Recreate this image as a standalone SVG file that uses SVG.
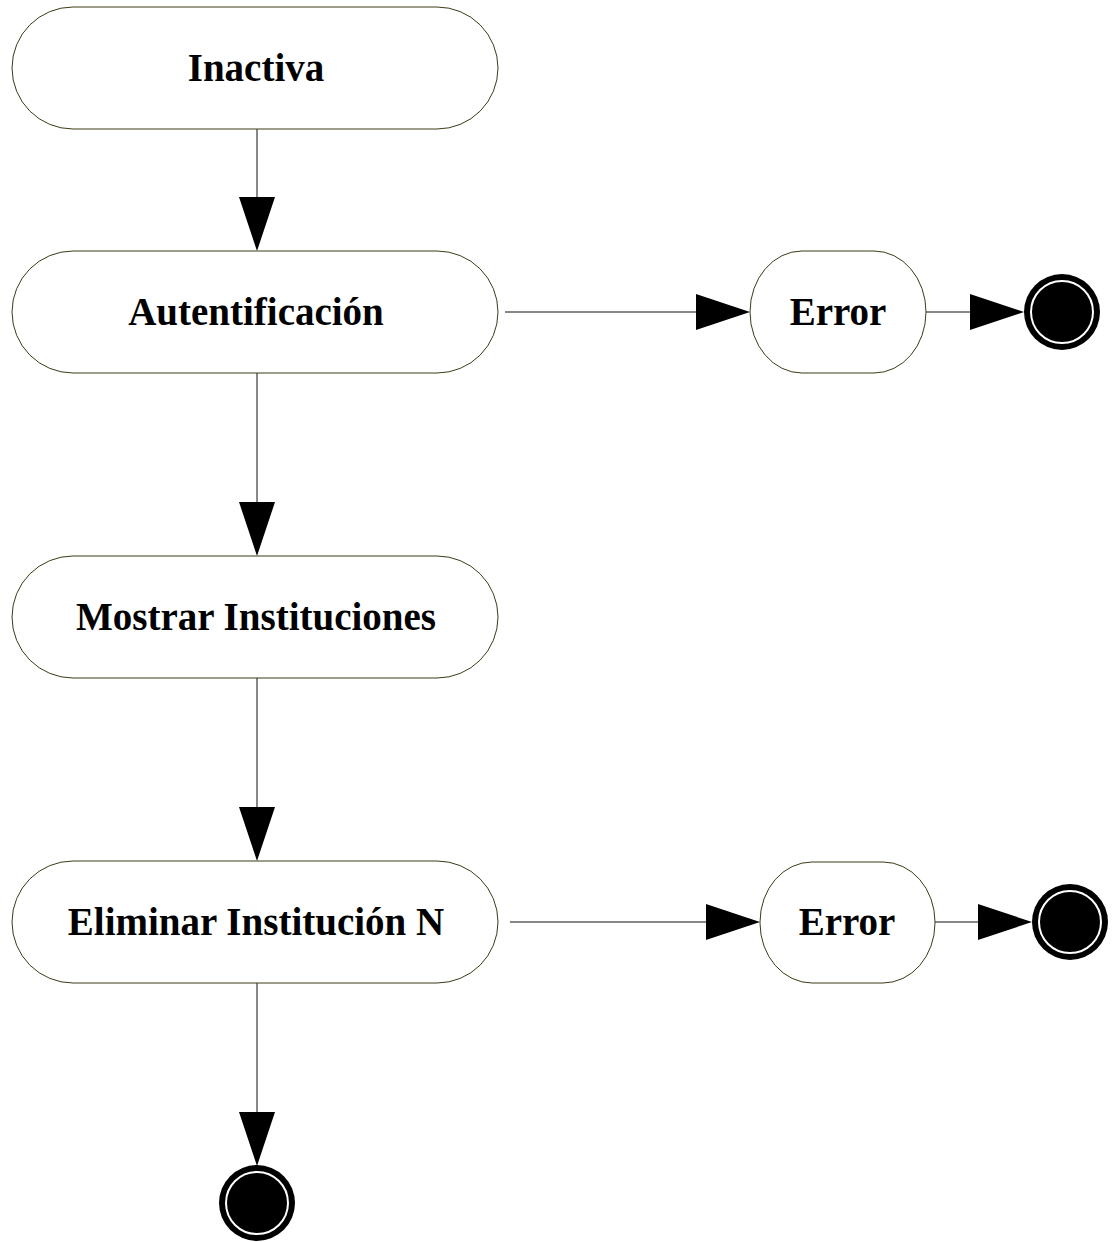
<svg xmlns="http://www.w3.org/2000/svg" width="1114" height="1242" viewBox="0 0 1114 1242">
  <style>
    .state { fill: #ffffff; stroke: #3d3a16; stroke-width: 1; }
    .label { font-family: "Liberation Serif", "Times New Roman", serif; font-weight: bold; font-size: 39px; fill: #000000; text-anchor: middle; }
    .edge { stroke: #111111; stroke-width: 1; fill: none; }
    .head { fill: #000000; stroke: none; }
    .final-outer { fill: #000000; }
    .final-ring { fill: none; stroke: #ffffff; stroke-width: 2; }
  </style>

  <!-- connectors -->
  <g id="connectors">
    <line class="edge" x1="257" y1="129" x2="257" y2="200"/>
    <polygon class="head" points="239,197 275,197 257,251"/>

    <line class="edge" x1="257" y1="373" x2="257" y2="505"/>
    <polygon class="head" points="239,502 275,502 257,556"/>

    <line class="edge" x1="257" y1="678" x2="257" y2="810"/>
    <polygon class="head" points="239,807 275,807 257,861"/>

    <line class="edge" x1="257" y1="983" x2="257" y2="1115"/>
    <polygon class="head" points="239,1112 275,1112 257,1166"/>

    <line class="edge" x1="505" y1="312" x2="700" y2="312"/>
    <polygon class="head" points="696,294 696,330 750,312"/>

    <line class="edge" x1="926" y1="312" x2="972" y2="312"/>
    <polygon class="head" points="970,294 970,330 1024,312"/>

    <line class="edge" x1="510" y1="922" x2="710" y2="922"/>
    <polygon class="head" points="706,904 706,940 760,922"/>

    <line class="edge" x1="935" y1="922" x2="980" y2="922"/>
    <polygon class="head" points="978,904 978,940 1032,922"/>
  </g>

  <g id="inactiva">
    <rect class="state" x="12" y="7" width="486" height="122" rx="61" ry="61"/>
    <text class="label" x="256" y="81">Inactiva</text>
  </g>

  <g id="autentificacion">
    <rect class="state" x="12" y="251" width="486" height="122" rx="61" ry="61"/>
    <text class="label" x="256" y="325">Autentificación</text>
  </g>

  <g id="error-1">
    <rect class="state" x="750" y="251" width="176" height="122" rx="52" ry="61"/>
    <text class="label" x="838" y="325">Error</text>
  </g>

  <g id="fin-1">
    <circle class="final-outer" cx="1062" cy="312" r="38"/>
    <circle class="final-ring" cx="1062" cy="312" r="31"/>
  </g>

  <g id="mostrar-instituciones">
    <rect class="state" x="12" y="556" width="486" height="122" rx="61" ry="61"/>
    <text class="label" x="256" y="630">Mostrar Instituciones</text>
  </g>

  <g id="eliminar-institucion">
    <rect class="state" x="12" y="861" width="486" height="122" rx="61" ry="61"/>
    <text class="label" x="256" y="935">Eliminar Institución N</text>
  </g>

  <g id="error-2">
    <rect class="state" x="760" y="862" width="175" height="121" rx="52" ry="60"/>
    <text class="label" x="847" y="935">Error</text>
  </g>

  <g id="fin-2">
    <circle class="final-outer" cx="1070" cy="922" r="38"/>
    <circle class="final-ring" cx="1070" cy="922" r="31"/>
  </g>

  <g id="fin-3">
    <circle class="final-outer" cx="257" cy="1203" r="38"/>
    <circle class="final-ring" cx="257" cy="1203" r="31"/>
  </g>
</svg>
